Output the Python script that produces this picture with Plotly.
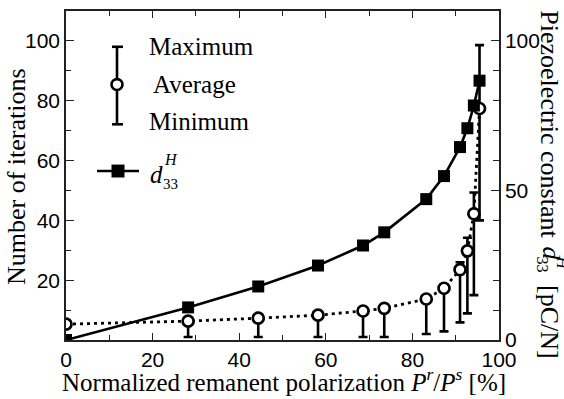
import plotly.graph_objects as go

# ---- data ----
polarization = [0, 28.2, 44.4, 58.2, 68.6, 73.5, 83.2, 87.3, 91.0, 92.7, 94.2, 95.5]
iter_average = [5.3, 6.3, 7.3, 8.3, 9.7, 10.6, 13.7, 17.3, 23.5, 29.8, 42.2, 77.4]
iter_maximum = [5.3, 7.3, 8.3, 9.3, 10.7, 11.6, 14.7, 18.5, 26.0, 34.2, 49.3, 98.6]
iter_minimum = [5.3, 1.0, 1.0, 1.0, 1.0, 1.0, 2.0, 2.9, 5.9, 8.9, 15.0, 40.0]
d33H = [0, 10.9, 17.9, 24.9, 31.6, 36.0, 47.1, 54.8, 64.5, 70.8, 78.4, 86.7]

x_ticks = [0, 20, 40, 60, 80, 100]
y_ticks_left = [20, 40, 60, 80, 100]
y_ticks_right = [0, 50, 100]

# ---- layout geometry (pixels) ----
W, H = 564, 399
L, R, T, B = 66, 65, 9, 59
PW, PH = W - L - R, H - T - B


def px(x):
    return (x - L) / PW


def py(y):
    return (H - B - y) / PH


SERIF = "Liberation Serif"
SANS = "Liberation Sans"

err_plus = [mx - a for mx, a in zip(iter_maximum, iter_average)]
err_minus = [a - mn for a, mn in zip(iter_average, iter_minimum)]

fig = go.Figure()
fig.add_trace(go.Scatter(
    x=polarization, y=d33H, yaxis="y2", mode="lines+markers",
    line=dict(color="black", width=2.6),
    marker=dict(symbol="square", size=12, color="black"),
    showlegend=False,
))
fig.add_trace(go.Scatter(
    x=polarization, y=iter_average, mode="lines+markers",
    line=dict(color="black", width=2.8, dash="3px,4px"),
    marker=dict(symbol="circle", size=11, color="white",
                line=dict(color="black", width=2.7)),
    error_y=dict(type="data", symmetric=False, array=err_plus,
                 arrayminus=err_minus, thickness=2.6, width=4.5,
                 color="black"),
    showlegend=False,
))

axis_common = dict(
    showgrid=False, zeroline=False, showline=True, linecolor="#222",
    linewidth=1.5, ticks="inside", tickcolor="#222", tickwidth=1.3,
    tickfont=dict(family=SANS, size=21, color="black"),
)

fig.update_layout(
    width=W, height=H,
    margin=dict(l=L, r=R, t=T, b=B, pad=0),
    paper_bgcolor="white", plot_bgcolor="white",
    showlegend=False,
    xaxis=dict(range=[0, 100], tickvals=x_ticks, ticklen=7,
               mirror="ticks",
               minor=dict(dtick=10, ticklen=5, ticks="inside",
                          tickcolor="#222", tickwidth=1.3),
               **axis_common),
    yaxis=dict(range=[0, 110], tickvals=y_ticks_left, ticklen=8,
               minor=dict(dtick=10, ticklen=5, ticks="inside",
                          tickcolor="#222", tickwidth=1.3),
               **axis_common),
    yaxis2=dict(range=[0, 110], tickvals=y_ticks_right, ticklen=8,
                overlaying="y", side="right",
                minor=dict(dtick=10, ticklen=6, ticks="inside",
                           tickcolor="#222", tickwidth=1.3),
                **axis_common),
)

ann = []


def add_text(text, x, y, size, angle=0, xanchor="center", yanchor="middle"):
    ann.append(dict(text=text, x=px(x), y=py(y), xref="paper", yref="paper",
                    showarrow=False, textangle=angle, xanchor=xanchor,
                    yanchor=yanchor,
                    font=dict(family=SERIF, size=size, color="black")))


# axis titles
add_text("Normalized remanent polarization <i>P</i><sup><i>r</i></sup>/<i>P</i><sup><i>s</i></sup> [%]",
         284, 380, 25)
add_text("Number of iterations", 17, 176, 26, angle=-90)
add_text("Piezoelectric constant", 550, 123, 26, angle=90)
add_text("<i>d</i>", 551, 253, 26, angle=90)
add_text("33", 543, 264, 16, angle=90)
add_text("<i>H</i>", 563, 262, 17, angle=90)
add_text("[pC/N]", 550, 322, 26, angle=90)

# legend texts
add_text("Maximum", 147, 45, 25, xanchor="left")
add_text("Average", 151, 83, 25, xanchor="left")
add_text("Minimum", 147, 120, 25, xanchor="left")
add_text("<i>d</i>", 156, 173, 25)
add_text("33", 170, 183, 15)
add_text("<i>H</i>", 171, 158, 16)

fig.update_layout(annotations=ann)

shapes = []
lw = 2.6
# error-bar glyph
shapes.append(dict(type="line", xref="paper", yref="paper",
                   x0=px(117), x1=px(117), y0=py(45), y1=py(123),
                   line=dict(color="black", width=lw)))
shapes.append(dict(type="line", xref="paper", yref="paper",
                   x0=px(112), x1=px(123), y0=py(45), y1=py(45),
                   line=dict(color="black", width=lw)))
shapes.append(dict(type="line", xref="paper", yref="paper",
                   x0=px(112), x1=px(123), y0=py(123), y1=py(123),
                   line=dict(color="black", width=lw)))
shapes.append(dict(type="circle", xref="paper", yref="paper",
                   x0=px(111.5), x1=px(122.5), y0=py(77.5), y1=py(88.5),
                   fillcolor="white", line=dict(color="black", width=lw)))
# d33 glyph
shapes.append(dict(type="line", xref="paper", yref="paper",
                   x0=px(97), x1=px(139), y0=py(170), y1=py(170),
                   line=dict(color="black", width=lw)))
shapes.append(dict(type="rect", xref="paper", yref="paper",
                   x0=px(111.5), x1=px(124.5), y0=py(163.5), y1=py(176.5),
                   fillcolor="black", line=dict(color="black", width=0)))
fig.update_layout(shapes=shapes)

fig.write_html("out.html",
               config={"displayModeBar": False},
               post_script="document.body.style.margin='0';document.body.style.overflow='hidden';")
